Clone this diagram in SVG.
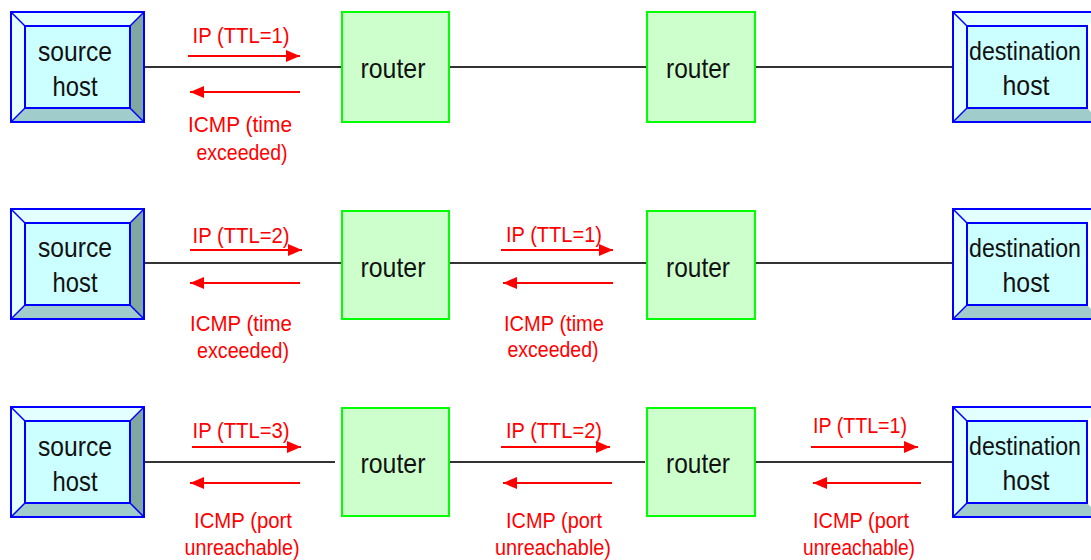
<svg xmlns="http://www.w3.org/2000/svg" width="1091" height="560" viewBox="0 0 1091 560">
<defs>
<style>
.bg{fill:#ffffff}
.router{fill:#ccffcc;stroke:#00ff00;stroke-width:2}
.outer{fill:none;stroke:#0000ff;stroke-width:2}
.inner{fill:#ccffff;stroke:#0000ff;stroke-width:2}
.bl{fill:#e4ffff}
.br{fill:#80a8a0}
.bb{fill:#a0cccc}
.diag{stroke:#0000ff;stroke-width:1.5}
.t{font-family:"Liberation Sans",Arial,sans-serif;font-size:28px;fill:#111111;text-anchor:middle}
.d{font-family:"Liberation Sans",Arial,sans-serif;font-size:26px;fill:#111111;text-anchor:middle}
.r{font-family:"Liberation Sans",Arial,sans-serif;font-size:22px;fill:#ff0000;text-anchor:middle}
.link{stroke:#333333;stroke-width:2;fill:none}
.arr{stroke:#ff0000;stroke-width:2;fill:none;marker-end:url(#ah)}
</style>
<marker id="ah" markerUnits="userSpaceOnUse" markerWidth="15" markerHeight="13" refX="14" refY="6" orient="auto">
<path d="M0,0 L14,6 L0,12 z" fill="#ff0000"/>
</marker>
<g id="hostshape">
<polygon class="bl" points="0,0 133,0 119,14 14,14"/>
<polygon class="bl" points="0,0 14,14 14,96 0,110"/>
<polygon class="br" points="133,0 133,110 119,96 119,14"/>
<polygon class="bb" points="0,110 133,110 119,96 14,96"/>
<line class="diag" x1="0" y1="0" x2="14" y2="14"/>
<line class="diag" x1="133" y1="0" x2="119" y2="14"/>
<line class="diag" x1="0" y1="110" x2="14" y2="96"/>
<line class="diag" x1="133" y1="110" x2="119" y2="96"/>
<rect class="inner" x="14" y="14" width="105" height="82"/>
<rect class="outer" x="0" y="0" width="133" height="110"/>
</g>
<g id="destshape">
<polygon class="bl" points="0,0 148,0 134,14 14,14"/>
<polygon class="bl" points="0,0 14,14 14,96 0,110"/>
<polygon class="bb" points="0,110 148,110 134,96 14,96"/>
<line class="diag" x1="0" y1="0" x2="14" y2="14"/>
<line class="diag" x1="0" y1="110" x2="14" y2="96"/>
<rect class="inner" x="14" y="14" width="120" height="82"/>
<rect class="outer" x="0" y="0" width="148" height="110"/>
</g>
</defs>
<rect class="bg" x="0" y="0" width="1091" height="560"/>

<g id="connectors">
<line class="link" x1="144" y1="67" x2="342" y2="67"/>
<line class="link" x1="449" y1="67" x2="647" y2="67"/>
<line class="link" x1="755" y1="67" x2="953" y2="67"/>
<line class="link" x1="144" y1="263" x2="342" y2="263"/>
<line class="link" x1="449" y1="263" x2="647" y2="263"/>
<line class="link" x1="755" y1="263" x2="953" y2="263"/>
<line class="link" x1="144" y1="462" x2="335" y2="462"/>
<line class="link" x1="449" y1="462" x2="645" y2="462"/>
<line class="link" x1="755" y1="462" x2="953" y2="462"/>

<line class="arr" x1="188" y1="56" x2="300" y2="56"/>
<line class="arr" x1="300" y1="92" x2="190" y2="92"/>
<line class="arr" x1="190" y1="250" x2="302" y2="250"/>
<line class="arr" x1="300" y1="283" x2="190" y2="283"/>
<line class="arr" x1="501" y1="250" x2="613" y2="250"/>
<line class="arr" x1="613" y1="283" x2="503" y2="283"/>
<line class="arr" x1="192" y1="447" x2="301" y2="447"/>
<line class="arr" x1="300" y1="483" x2="190" y2="483"/>
<line class="arr" x1="501" y1="447" x2="610" y2="447"/>
<line class="arr" x1="612" y1="483" x2="503" y2="483"/>
<line class="arr" x1="811" y1="447" x2="918" y2="447"/>
<line class="arr" x1="921" y1="483" x2="813" y2="483"/>
</g>

<g id="labels">
<text class="r" x="241" y="43" textLength="97" lengthAdjust="spacingAndGlyphs">IP (TTL=1)</text>
<text class="r" x="240" y="132" textLength="104" lengthAdjust="spacingAndGlyphs">ICMP (time</text>
<text class="r" x="242" y="160" textLength="91" lengthAdjust="spacingAndGlyphs">exceeded)</text>

<text class="r" x="241" y="243" textLength="97" lengthAdjust="spacingAndGlyphs">IP (TTL=2)</text>
<text class="r" x="241" y="331" textLength="102" lengthAdjust="spacingAndGlyphs">ICMP (time</text>
<text class="r" x="243" y="358" textLength="92" lengthAdjust="spacingAndGlyphs">exceeded)</text>
<text class="r" x="554" y="242" textLength="96" lengthAdjust="spacingAndGlyphs">IP (TTL=1)</text>
<text class="r" x="554" y="331" textLength="100" lengthAdjust="spacingAndGlyphs">ICMP (time</text>
<text class="r" x="553" y="357" textLength="91" lengthAdjust="spacingAndGlyphs">exceeded)</text>

<text class="r" x="241" y="438" textLength="97" lengthAdjust="spacingAndGlyphs">IP (TTL=3)</text>
<text class="r" x="243" y="528" textLength="98" lengthAdjust="spacingAndGlyphs">ICMP (port</text>
<text class="r" x="242" y="555" textLength="115" lengthAdjust="spacingAndGlyphs">unreachable)</text>
<text class="r" x="554" y="438" textLength="96" lengthAdjust="spacingAndGlyphs">IP (TTL=2)</text>
<text class="r" x="554" y="528" textLength="96" lengthAdjust="spacingAndGlyphs">ICMP (port</text>
<text class="r" x="553" y="555" textLength="116" lengthAdjust="spacingAndGlyphs">unreachable)</text>
<text class="r" x="860" y="433" textLength="94" lengthAdjust="spacingAndGlyphs">IP (TTL=1)</text>
<text class="r" x="861" y="528" textLength="96" lengthAdjust="spacingAndGlyphs">ICMP (port</text>
<text class="r" x="859" y="555" textLength="112" lengthAdjust="spacingAndGlyphs">unreachable)</text>
</g>

<g id="source-host-1">
<use href="#hostshape" x="11" y="12"/>
<text class="t" x="75" y="61" textLength="74" lengthAdjust="spacingAndGlyphs">source</text>
<text class="t" x="75" y="96" textLength="45" lengthAdjust="spacingAndGlyphs">host</text>
</g>
<g id="router-1a">
<rect class="router" x="342" y="12" width="107" height="110"/>
<text class="t" x="393" y="78" textLength="65" lengthAdjust="spacingAndGlyphs">router</text>
</g>
<g id="router-1b">
<rect class="router" x="647" y="12" width="108" height="110"/>
<text class="t" x="698" y="78" textLength="64" lengthAdjust="spacingAndGlyphs">router</text>
</g>
<g id="dest-host-1">
<use href="#destshape" x="953" y="12"/>
<text class="d" x="1025" y="60" textLength="112" lengthAdjust="spacingAndGlyphs">destination</text>
<text class="t" x="1026" y="95" textLength="47" lengthAdjust="spacingAndGlyphs">host</text>
</g>

<g id="source-host-2">
<use href="#hostshape" x="11" y="209"/>
<text class="t" x="75" y="257" textLength="74" lengthAdjust="spacingAndGlyphs">source</text>
<text class="t" x="75" y="292" textLength="45" lengthAdjust="spacingAndGlyphs">host</text>
</g>
<g id="router-2a">
<rect class="router" x="342" y="211" width="107" height="108"/>
<text class="t" x="393" y="277" textLength="65" lengthAdjust="spacingAndGlyphs">router</text>
</g>
<g id="router-2b">
<rect class="router" x="647" y="211" width="108" height="108"/>
<text class="t" x="698" y="277" textLength="64" lengthAdjust="spacingAndGlyphs">router</text>
</g>
<g id="dest-host-2">
<use href="#destshape" x="953" y="209"/>
<text class="d" x="1025" y="257" textLength="112" lengthAdjust="spacingAndGlyphs">destination</text>
<text class="t" x="1026" y="292" textLength="47" lengthAdjust="spacingAndGlyphs">host</text>
</g>

<g id="source-host-3">
<use href="#hostshape" x="11" y="407"/>
<text class="t" x="75" y="456" textLength="74" lengthAdjust="spacingAndGlyphs">source</text>
<text class="t" x="75" y="491" textLength="45" lengthAdjust="spacingAndGlyphs">host</text>
</g>
<g id="router-3a">
<rect class="router" x="342" y="408" width="107" height="108"/>
<text class="t" x="393" y="473" textLength="65" lengthAdjust="spacingAndGlyphs">router</text>
</g>
<g id="router-3b">
<rect class="router" x="647" y="408" width="108" height="108"/>
<text class="t" x="698" y="473" textLength="64" lengthAdjust="spacingAndGlyphs">router</text>
</g>
<g id="dest-host-3">
<use href="#destshape" x="953" y="407"/>
<text class="d" x="1025" y="455" textLength="112" lengthAdjust="spacingAndGlyphs">destination</text>
<text class="t" x="1026" y="490" textLength="47" lengthAdjust="spacingAndGlyphs">host</text>
</g>
</svg>
